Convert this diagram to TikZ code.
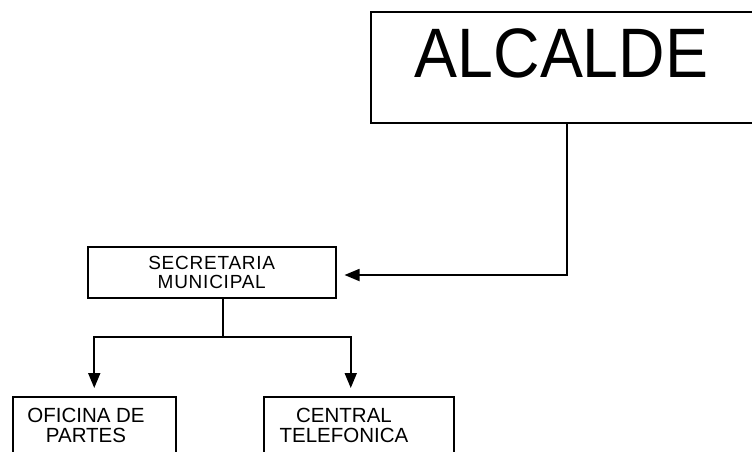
\documentclass[tikz,border=0pt]{standalone}
\usepackage{fontspec}
\setmainfont{Liberation Sans}
\usetikzlibrary{arrows.meta}
\begin{document}
\begin{tikzpicture}[x=1pt,y=-1pt,
  box/.style={draw, line width=1.5pt, inner sep=0pt},
  conn/.style={line width=1.8pt},
  arr/.style={conn, -{Triangle[length=15pt,width=12pt]}, shorten >=8pt},
  small/.style={align=center, inner sep=0pt},
]
\useasboundingbox (0,0) rectangle (752,451);
% boxes
\node[box, anchor=north west, minimum width=395pt, minimum height=111pt] (alc) at (370,11) {};
\node[anchor=base, inner sep=0pt, font=\fontsize{70}{70}\selectfont] (alct) at (561.5,77) {\scalebox{0.92}[1]{ALCALDE}};
\node[box, anchor=north west, minimum width=248pt, minimum height=51pt,
      align=center, font=\fontsize{19}{19}\selectfont\addfontfeature{LetterSpace=4}] (sec) at (87,246) {SECRETARIA\\MUNICIPAL};
\node[box, anchor=north west, minimum width=163pt, minimum height=75pt] (ofi) at (12,396) {};
\node[small, font=\fontsize{20.5}{20.5}\selectfont] (ofit) at (86,425.5) {OFICINA DE\\PARTES};
\node[box, anchor=north west, minimum width=190pt, minimum height=75pt] (cen) at (263,396) {};
\node[small, font=\fontsize{20.5}{20.5}\selectfont] (cent) at (344,425.5) {CENTRAL\\TELEFONICA};
% connectors
\coordinate (aturn) at (567,275);
\coordinate (sjoin) at (223,337);
\draw[arr] (alc.south -| aturn) |- (sec.east |- aturn);
\draw[conn] (sec.south -| sjoin) -- (sjoin);
\draw[arr] (sjoin) -| (ofi.north);
\draw[arr] (sjoin) -| ([xshift=-8pt]cen.north);
\end{tikzpicture}
\end{document}
